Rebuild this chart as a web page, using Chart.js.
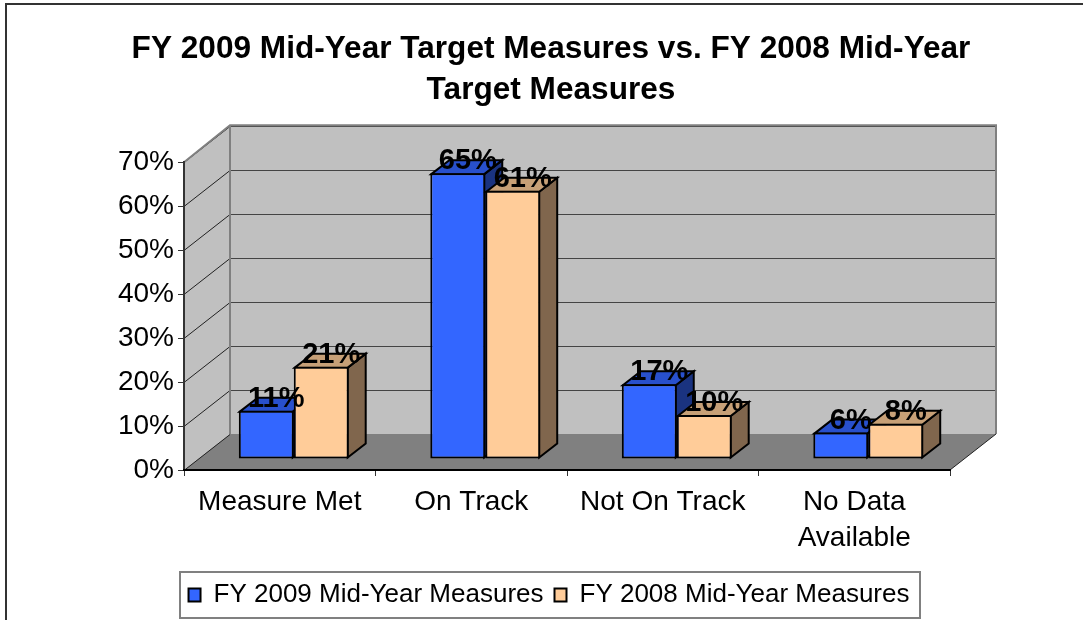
<!DOCTYPE html>
<html>
<head>
<meta charset="utf-8">
<style>html,body{margin:0;padding:0;background:#fff;overflow:hidden}canvas{display:block}</style>
<script src="https://cdn.jsdelivr.net/npm/chart.js@4"></script>
</head>
<body>
<canvas id="c" width="1083" height="620"></canvas>
<script>
const categories = ["Measure Met", "On Track", "Not On Track", ["No Data", "Available"]];
const fy2009 = [11, 65, 17, 6];
const fy2008 = [21, 61, 10, 8];
const seriesNames = ["FY 2009 Mid-Year Measures", "FY 2008 Mid-Year Measures"];
const titleLines = ["FY 2009 Mid-Year Target Measures vs. FY 2008 Mid-Year", "Target Measures"];
const FONT = '"Liberation Sans", Arial, sans-serif';

const WALL = {dx: 46, dy: -36};
const BAR = {ox: 14, oy: -11, dx: 18, dy: -14};
const shades = [
  {top: '#2850CC', side: '#1A3380'},
  {top: '#C7A077', side: '#80664D'}
];
function poly(ctx, pts, fill, stroke, lw) {
  ctx.beginPath();
  pts.forEach((p, i) => i ? ctx.lineTo(p[0], p[1]) : ctx.moveTo(p[0], p[1]));
  ctx.closePath();
  if (fill) { ctx.fillStyle = fill; ctx.fill(); }
  if (stroke) { ctx.strokeStyle = stroke; ctx.lineWidth = lw; ctx.lineJoin = 'miter'; ctx.stroke(); }
}
const scene = {
  id: 'scene',
  afterLayout(chart) {
    chart.titleBlock.left = 19; chart.titleBlock.right = 1083;
    const lg = chart.legend;
    lg.left = 170; lg.right = 928; lg.top = 571; lg.bottom = 619;
  },
  beforeDraw(chart) {
    const {ctx, chartArea: a, scales: {y}} = chart;
    const {dx, dy} = WALL;
    ctx.save();
    ctx.fillStyle = '#fff'; ctx.fillRect(0, 0, 1083, 620);
    // outer frame
    ctx.strokeStyle = '#333'; ctx.lineWidth = 2;
    ctx.beginPath(); ctx.moveTo(6, 620); ctx.lineTo(6, 4); ctx.lineTo(1083, 4); ctx.stroke();
    // walls and floor
    poly(ctx, [[a.left, a.top], [a.left + dx, a.top + dy], [a.left + dx, a.bottom + dy], [a.left, a.bottom]], '#C0C0C0');
    poly(ctx, [[a.left + dx, a.top + dy], [a.right + dx, a.top + dy], [a.right + dx, a.bottom + dy], [a.left + dx, a.bottom + dy]], '#C0C0C0');
    poly(ctx, [[a.left, a.bottom], [a.right, a.bottom], [a.right + dx, a.bottom + dy], [a.left + dx, a.bottom + dy]], '#808080');
    // gridlines
    ctx.lineWidth = 1;
    y.ticks.forEach(t => {
      const py = Math.round(y.getPixelForValue(t.value)) + 0.5;
      ctx.strokeStyle = '#222';
      ctx.beginPath(); ctx.moveTo(a.left, py); ctx.lineTo(a.left + dx, py + dy); ctx.stroke();
      if (t.value > 0) {
        ctx.strokeStyle = '#444';
        ctx.beginPath(); ctx.moveTo(a.left + dx, py + dy); ctx.lineTo(a.right + dx, py + dy); ctx.stroke();
      }
    });
    // wall edges
    ctx.strokeStyle = '#808080'; ctx.lineWidth = 2;
    ctx.beginPath();
    ctx.moveTo(a.left, a.top); ctx.lineTo(a.left + dx, a.top + dy - 1); ctx.lineTo(a.right + dx, a.top + dy - 1);
    ctx.lineTo(a.right + dx, a.bottom + dy);
    ctx.moveTo(a.left + dx, a.top + dy); ctx.lineTo(a.left + dx, a.bottom + dy);
    ctx.stroke();
    ctx.strokeStyle = '#222'; ctx.lineWidth = 1;
    ctx.beginPath(); ctx.moveTo(a.right, a.bottom); ctx.lineTo(a.right + dx, a.bottom + dy); ctx.stroke();
    ctx.restore();
  },
  // The back series has to be painted first, so the datasets are drawn here in series order.
  beforeDatasetsDraw(chart) {
    const ctx = chart.ctx;
    [0, 1].forEach(index => {
      const meta = chart.getDatasetMeta(index), s = shades[index];
      ctx.save();
      ctx.translate(BAR.ox, BAR.oy);
      meta.data.forEach(el => {
        const L = el.x - el.width / 2, R = el.x + el.width / 2, T = el.y, B = el.base;
        poly(ctx, [[R - 1, T + 1], [R - 1 + BAR.dx, T + 1 + BAR.dy], [R - 1 + BAR.dx, B - 1 + BAR.dy], [R - 1, B - 1]], s.side, '#000', 2);
        poly(ctx, [[L + 1, T + 1], [L + 1 + BAR.dx, T + 1 + BAR.dy], [R - 1 + BAR.dx, T + 1 + BAR.dy], [R - 1, T + 1]], s.top, '#000', 2);
      });
      meta.controller.draw();
      ctx.restore();
    });
    return false;
  },
  afterDraw(chart) {
    const ctx = chart.ctx;
    ctx.save();
    // data labels on top of every bar
    ctx.font = 'bold 29px ' + FONT;
    ctx.fillStyle = '#000'; ctx.textAlign = 'center'; ctx.textBaseline = 'middle';
    [chart.getDatasetMeta(0), chart.getDatasetMeta(1)].forEach((m, di) => {
      m.data.forEach((el, i) => {
        const v = chart.data.datasets[di].data[i];
        ctx.fillText(v + '%', el.x + BAR.ox + BAR.dx / 2 + 1, el.y + BAR.oy + BAR.dy / 2 - 5);
      });
    });
    // legend frame
    ctx.strokeStyle = '#808080'; ctx.lineWidth = 2;
    ctx.strokeRect(180, 572, 740, 46);
    ctx.restore();
  }
};

new Chart(document.getElementById('c'), {
  type: 'bar',
  data: {
    labels: categories,
    datasets: [
      {label: seriesNames[0], data: fy2009, backgroundColor: '#3366FF', borderColor: '#000', borderWidth: 2, borderSkipped: false},
      {label: seriesNames[1], data: fy2008, backgroundColor: '#FFCC99', borderColor: '#000', borderWidth: 2, borderSkipped: false}
    ]
  },
  options: {
    responsive: false,
    animation: false,
    devicePixelRatio: 1,
    layout: {autoPadding: false, padding: {left: 0, top: 0, bottom: 0, right: 133}},
    datasets: {bar: {categoryPercentage: 0.574, barPercentage: 1}},
    plugins: {
      tooltip: {enabled: false},
      title: {
        display: true, text: titleLines, color: '#000',
        font: {family: FONT, size: 31.6, weight: 'bold', lineHeight: 1.3},
        padding: {top: 28.5, bottom: 51.5}
      },
      legend: {
        display: true, position: 'bottom', align: 'center',
        labels: {
          color: '#000', boxWidth: 12, boxHeight: 13, padding: 11,
          font: {family: FONT, size: 26}
        }
      }
    },
    scales: {
      y: {
        min: 0, max: 70,
        afterFit(s) { s.width = 184; },
        ticks: {stepSize: 10, color: '#000', padding: 4, font: {family: FONT, size: 28}, callback: v => v + '%'},
        grid: {drawOnChartArea: false, drawTicks: true, tickLength: 6, color: '#333'},
        border: {display: true, color: '#333', width: 2}
      },
      x: {
        afterFit(s) { s.height = 150 - chartLegendHeight(s.chart); },
        ticks: {color: '#000', padding: 8, maxRotation: 0, autoSkip: false, font: {family: FONT, size: 28, lineHeight: 1.286}},
        grid: {drawOnChartArea: false, drawTicks: true, tickLength: 6, color: '#333'},
        border: {display: true, color: '#000', width: 2}
      }
    }
  },
  plugins: [scene]
});
function chartLegendHeight(chart) { return chart.legend ? chart.legend.height : 0; }
</script>
</body>
</html>
